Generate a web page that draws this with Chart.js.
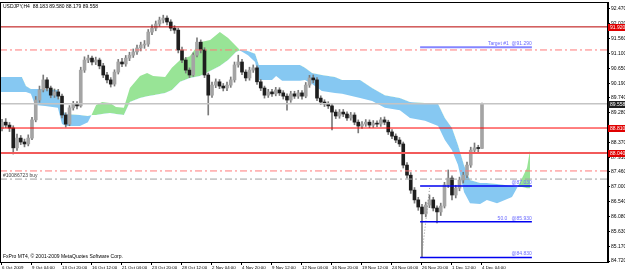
<!DOCTYPE html>
<html>
<head>
<meta charset="utf-8">
<script src="https://cdn.jsdelivr.net/npm/chart.js@4.4.1/dist/chart.umd.min.js"></script>
<style>
  html, body { margin: 0; padding: 0; background: #fff; }
  #wrap { width: 625px; height: 271px; }
</style>
</head>
<body>
<div id="wrap"><canvas id="chart"></canvas></div>
<script>
// USDJPY H4, one candle = two H4 bars
const ohlcOpen = [88.80, 88.99, 88.90, 88.81, 88.20, 88.50, 88.38, 88.32, 88.50, 89.06,
  89.67, 89.98, 90.29, 90.04, 89.82, 89.92, 89.79, 89.21, 88.93, 89.43,
  89.55, 89.49, 90.59, 90.90, 90.96, 90.84, 90.90, 90.72, 90.44, 90.29,
  90.16, 90.53, 90.84, 90.78, 90.96, 91.05, 91.15, 91.27, 91.36, 91.39,
  91.76, 91.88, 92.01, 92.13, 92.19, 92.07, 91.88, 91.82, 91.21, 90.90,
  90.59, 90.44, 91.05, 91.45, 91.21, 90.44, 89.82, 90.13, 90.23, 90.10,
  90.04, 90.13, 90.29, 90.75, 90.84, 90.53, 90.35, 90.59, 90.66, 90.23,
  90.04, 89.82, 89.92, 89.86, 89.98, 89.89, 89.79, 89.67, 89.86, 89.79,
  89.89, 89.79, 90.13, 90.35, 90.29, 89.73, 89.61, 89.55, 89.49, 89.30,
  89.18, 89.30, 89.24, 89.12, 89.21, 88.99, 88.87, 88.93, 88.99, 88.90,
  88.96, 88.93, 89.06, 88.99, 88.69, 88.56, 88.44, 88.32, 87.67, 87.36,
  86.90, 86.60, 86.38, 86.17, 86.44, 86.60, 86.35, 86.23, 86.41, 87.06,
  87.27, 86.75, 86.96, 87.21, 87.36, 87.67, 88.13, 88.20, 88.183];
const ohlcHigh = [89.08, 89.10, 88.98, 88.88, 88.62, 88.58, 88.47, 88.60, 89.14, 89.78,
  90.10, 90.44, 90.36, 90.10, 90.01, 90.00, 89.85, 89.28, 89.50, 89.63,
  89.62, 90.68, 91.00, 91.05, 91.02, 90.99, 90.96, 90.80, 90.52, 90.36,
  90.60, 90.92, 90.95, 91.04, 91.14, 91.24, 91.36, 91.45, 91.50, 91.84,
  91.98, 92.10, 92.22, 92.28, 92.26, 92.14, 91.96, 91.88, 91.30, 90.98,
  90.66, 91.12, 91.58, 91.52, 91.28, 90.50, 90.22, 90.32, 90.30, 90.18,
  90.22, 90.38, 90.84, 91.05, 90.92, 90.60, 90.68, 90.75, 90.72, 90.30,
  90.10, 90.00, 90.00, 90.06, 90.05, 89.96, 89.86, 89.94, 89.94, 89.97,
  89.96, 90.21, 90.43, 90.44, 90.36, 89.80, 89.68, 89.62, 89.56, 89.37,
  89.38, 89.38, 89.31, 89.29, 89.28, 89.06, 89.01, 89.07, 89.06, 89.04,
  89.03, 89.13, 89.15, 89.05, 88.76, 88.63, 88.52, 88.38, 87.75, 87.44,
  86.98, 86.68, 86.46, 86.53, 86.75, 86.68, 86.42, 86.50, 87.14, 87.52,
  87.34, 87.05, 87.30, 87.45, 87.76, 88.22, 88.35, 88.28, 89.580];
const ohlcLow = [88.72, 88.82, 88.70, 88.01, 88.12, 88.30, 88.23, 88.26, 88.45, 89.00,
  89.60, 89.92, 89.95, 89.74, 89.75, 89.70, 89.12, 88.84, 88.88, 89.36,
  89.40, 89.45, 90.52, 90.82, 90.75, 90.76, 90.63, 90.36, 90.20, 90.07,
  90.10, 90.47, 90.70, 90.71, 90.88, 90.98, 91.07, 91.18, 91.26, 91.32,
  91.68, 91.80, 91.94, 92.04, 91.98, 91.80, 91.72, 91.12, 90.82, 90.50,
  90.36, 90.40, 91.00, 91.12, 90.36, 89.21, 89.75, 90.05, 90.02, 89.95,
  89.96, 90.06, 90.22, 90.68, 90.45, 90.26, 90.28, 90.52, 90.15, 89.96,
  89.73, 89.75, 89.78, 89.80, 89.81, 89.70, 89.36, 89.60, 89.72, 89.72,
  89.70, 89.74, 90.06, 90.20, 89.65, 89.53, 89.47, 89.41, 88.75, 89.10,
  89.11, 89.16, 89.04, 89.05, 88.91, 88.66, 88.80, 88.86, 88.82, 88.83,
  88.85, 88.86, 88.91, 88.61, 88.48, 88.36, 88.24, 87.58, 87.27, 86.80,
  86.50, 86.28, 84.83, 86.08, 86.36, 86.26, 85.89, 86.12, 86.35, 86.98,
  86.60, 86.66, 86.88, 87.12, 87.28, 87.60, 88.04, 88.08, 88.179];
const ohlcClose = [88.99, 88.90, 88.81, 88.20, 88.50, 88.38, 88.32, 88.50, 89.06, 89.67,
  89.98, 90.29, 90.04, 89.82, 89.92, 89.79, 89.21, 88.93, 89.43, 89.55,
  89.49, 90.59, 90.90, 90.96, 90.84, 90.90, 90.72, 90.44, 90.29, 90.16,
  90.53, 90.84, 90.78, 90.96, 91.05, 91.15, 91.27, 91.36, 91.39, 91.76,
  91.88, 92.01, 92.13, 92.19, 92.07, 91.88, 91.82, 91.21, 90.90, 90.59,
  90.44, 91.05, 91.45, 91.21, 90.44, 89.82, 90.13, 90.23, 90.10, 90.04,
  90.13, 90.29, 90.75, 90.84, 90.53, 90.35, 90.59, 90.66, 90.23, 90.04,
  89.82, 89.92, 89.86, 89.98, 89.89, 89.79, 89.67, 89.86, 89.79, 89.89,
  89.79, 90.13, 90.35, 90.29, 89.73, 89.61, 89.55, 89.49, 89.30, 89.18,
  89.30, 89.24, 89.12, 89.21, 88.99, 88.87, 88.93, 88.99, 88.90, 88.96,
  88.93, 89.06, 88.99, 88.69, 88.56, 88.44, 88.32, 87.67, 87.36, 86.90,
  86.60, 86.38, 86.17, 86.44, 86.60, 86.35, 86.23, 86.41, 87.06, 87.27,
  86.75, 86.96, 87.21, 87.36, 87.67, 88.13, 88.20, 88.18, 89.558];

// ichimoku cloud (senkou span A / B), sampled at candle positions
const cloudBar = [-0.5, 2.1, 5.3, 6.4, 7.7, 8.8, 11.5, 14.9, 16.0, 17.1,
  20.8, 22.9, 24.0, 25.1, 26.7, 28.8, 30.4, 32.5, 34.1, 36.8,
  38.7, 40.3, 43.5, 45.3, 47.5, 50.1, 52.8, 55.5, 58.1, 60.3,
  62.4, 63.7, 65.6, 67.5, 68.5, 72.0, 73.1, 74.7, 79.5, 80.8,
  82.7, 85.3, 88.8, 90.7, 95.5, 98.7, 102.1, 106.1, 108.8, 112.8,
  116.3, 118.1, 120.0, 121.6, 123.2, 124.8, 127.5, 129.3, 132.0, 134.1,
  136.0, 137.3, 138.7, 140.0, 140.8];
const spanA = [89.92, 89.92, 89.92, 89.92, 89.86, 89.52, 89.49, 89.43, 88.93, 88.87,
  88.87, 88.99, 89.24, 89.52, 89.61, 89.58, 89.46, 89.43, 90.04, 90.41,
  90.50, 90.41, 90.38, 90.66, 90.90, 91.02, 91.45, 91.52, 91.76, 91.58,
  91.33, 91.18, 91.05, 90.84, 90.29, 90.29, 90.41, 90.26, 90.26, 90.29,
  90.16, 89.95, 89.89, 89.86, 89.73, 89.64, 89.43, 89.36, 89.12, 89.03,
  88.87, 88.44, 88.13, 87.67, 86.84, 86.50, 86.47, 86.60, 86.50, 86.60,
  86.69, 86.96, 87.27, 87.58, 88.13];
const spanB = [90.38, 90.38, 90.38, 90.10, 90.01, 90.01, 90.01, 89.98, 89.36, 89.24,
  89.21, 89.18, 89.21, 89.21, 89.24, 89.27, 89.24, 89.21, 89.61, 89.73,
  89.79, 89.82, 89.89, 89.98, 90.23, 90.35, 90.41, 90.56, 90.72, 90.90,
  91.15, 91.21, 91.18, 91.09, 90.75, 90.75, 90.75, 90.75, 90.75, 90.66,
  90.50, 90.44, 90.38, 90.29, 90.29, 90.04, 89.82, 89.73, 89.61, 89.58,
  89.55, 89.12, 88.81, 88.29, 87.67, 87.21, 87.12, 87.12, 87.09, 87.06,
  87.03, 87.00, 87.00, 86.96, 86.96];

const priceTicks = [84.72, 85.17, 85.63, 86.08, 86.54, 87.00, 87.46, 87.91, 88.37,
  88.83, 89.28, 89.74, 90.19, 90.65, 91.10, 91.56, 92.02, 92.47];
const timeTickBars = [0, 8, 16, 24, 32, 40, 48, 56, 64, 72, 80, 88, 96, 104, 112, 120, 128];
const timeTickLabels = ["6 Oct 2009", "9 Oct 04:00", "13 Oct 20:00", "16 Oct 12:00", "21 Oct 04:00",
  "23 Oct 20:00", "28 Oct 12:00", "2 Nov 04:00", "4 Nov 20:00", "9 Nov 12:00", "12 Nov 04:00",
  "16 Nov 20:00", "19 Nov 12:00", "24 Nov 04:00", "26 Nov 20:00", "1 Dec 12:00", "4 Dec 04:00"];

// horizontal levels
const resistHigh = 91.92;
const resistMid = 88.81;
const resistLow = 88.04;
const bidPrice = 89.558;
const takeLevel = 91.21;
const orderPrice = 87.49;
const stopLevel = 87.24;
const targetPrice = 91.29;
const fibPrices = [87.03, 85.93, 84.83];
const fibTexts = ["@87.030", "50.0   @85.930", "@84.830"];
const fibFrom = 111.5, fibTo = 141.3;
const trendFrom = 111.9, trendTo = 114.1;

const X_MIN = -0.533, X_MAX = 161.6;
const Y_MIN = 84.690, Y_MAX = 92.685;
const FONT = "Liberation Sans";

const bars = ohlcClose.map((c, i) => i);

function hLine(value, color, width, dash, from, to) {
  return {
    type: "line",
    data: [{ x: from, y: value }, { x: to, y: value }],
    borderColor: color,
    borderWidth: width,
    borderDash: dash,
    pointRadius: 0,
    fill: false,
    order: 1,
  };
}

const overlay = {
  id: "overlay",
  afterDraw(chart) {
    const { ctx, chartArea: a, scales: { x, y } } = chart;
    ctx.save();
    ctx.strokeStyle = "#000";
    ctx.lineWidth = 1;
    ctx.strokeRect(a.left + 0.5, a.top + 0.5, a.right - a.left - 1, a.bottom - a.top);

    ctx.font = "5px " + FONT;
    ctx.textBaseline = "middle";
    ctx.textAlign = "left";
    ctx.fillStyle = "#000";
    ctx.fillText("USDJPY,H4  88.183 89.580 88.179 89.558", 3, 7);
    ctx.fillText("FxPro MT4, \u00a9 2001-2009 MetaQuotes Software Corp.", 3, 257);
    ctx.fillStyle = "#444";
    ctx.fillText("#10086723 buy", 3, y.getPixelForValue(orderPrice) + 5);

    // fibonacci / target labels
    ctx.textAlign = "right";
    ctx.textBaseline = "bottom";
    ctx.fillStyle = "#6a6aff";
    const xr = x.getPixelForValue(fibTo);
    ctx.fillText("Target #1  @91.290", xr, y.getPixelForValue(targetPrice) - 1);
    fibPrices.forEach((p, i) => ctx.fillText(fibTexts[i], xr, y.getPixelForValue(p) - 1));

    // price boxes on the axis
    const boxes = [[resistHigh, "#e00000"], [bidPrice, "#202020"], [resistMid, "#e00000"], [resistLow, "#e00000"]];
    ctx.textAlign = "left";
    ctx.textBaseline = "middle";
    boxes.forEach(([p, c]) => {
      const py = Math.round(y.getPixelForValue(p));
      ctx.fillStyle = c;
      ctx.fillRect(a.right, py - 3, 625 - a.right, 7);
      ctx.fillStyle = "#fff";
      ctx.fillText(p.toFixed(3), a.right + 2, py + 0.5);
    });
    ctx.restore();
  },
};

new Chart(document.getElementById("chart"), {
  type: "bar",
  data: {
    datasets: [
      hLine(resistHigh, "#b80000", 1, [], X_MIN, X_MAX),
      hLine(takeLevel, "#ff7a7a", 1, [7, 3, 2, 3], X_MIN, X_MAX),
      hLine(bidPrice, "#c4c4c4", 1.5, [], X_MIN, X_MAX),
      hLine(resistMid, "#ff0000", 1, [], X_MIN, X_MAX),
      hLine(resistLow, "#f25a5a", 2, [], X_MIN, X_MAX),
      hLine(orderPrice, "#ff7a7a", 1, [7, 3, 2, 3], X_MIN, X_MAX),
      hLine(stopLevel, "#a0a0a0", 1, [7, 3, 2, 3], X_MIN, X_MAX),
      hLine(targetPrice, "#8585ff", 2, [], fibFrom, fibTo),
      hLine(fibPrices[0], "#0000f0", 1.5, [], fibFrom, fibTo),
      hLine(fibPrices[1], "#0000f0", 1.5, [], fibFrom, fibTo),
      hLine(fibPrices[2], "#0000f0", 1.5, [], fibFrom, fibTo),
      {
        type: "line",
        data: [{ x: trendFrom, y: fibPrices[2] }, { x: trendTo, y: fibPrices[0] }],
        borderColor: "#909090",
        borderWidth: 1,
        borderDash: [1, 2],
        pointRadius: 0,
        fill: false,
        order: 1,
      },
      {
        label: "bodies",
        data: bars.map((i) => ({ x: i, y: [ohlcOpen[i], ohlcClose[i]] })),
        backgroundColor: bars.map((i) => (ohlcClose[i] >= ohlcOpen[i] ? "#a4a4a4" : "#1e1e1e")),
        barThickness: 3,
        minBarLength: 1,
        grouped: false,
        order: 2,
      },
      {
        label: "wicks",
        data: bars.map((i) => ({ x: i, y: [ohlcLow[i], ohlcHigh[i]] })),
        backgroundColor: "#7a7a7a",
        barThickness: 1,
        grouped: false,
        order: 3,
      },
      {
        type: "line",
        label: "Senkou A",
        data: cloudBar.map((b, i) => ({ x: b, y: spanA[i] })),
        borderColor: "rgba(0,0,0,0)",
        pointRadius: 0,
        tension: 0,
        fill: { target: "+1", above: "#98e496", below: "#86c8f2" },
        order: 10,
      },
      {
        type: "line",
        label: "Senkou B",
        data: cloudBar.map((b, i) => ({ x: b, y: spanB[i] })),
        borderColor: "rgba(0,0,0,0)",
        pointRadius: 0,
        tension: 0,
        fill: false,
        order: 11,
      },
    ],
  },
  options: {
    responsive: true,
    maintainAspectRatio: false,
    animation: false,
    devicePixelRatio: 1,
    layout: { padding: { top: 2, left: 0, right: 0, bottom: 0 } },
    plugins: {
      legend: { display: false },
      tooltip: { enabled: false },
    },
    scales: {
      x: {
        type: "linear",
        min: X_MIN,
        max: X_MAX,
        offset: false,
        grid: { display: true, drawOnChartArea: false, drawTicks: true, tickLength: 3, color: "#000", offset: false },
        border: { display: true, color: "#000" },
        ticks: {
          font: { family: FONT, size: 4.4 },
          color: "#000",
          align: "start",
          padding: 0,
          maxRotation: 0,
          autoSkip: false,
          callback: (v, i) => timeTickLabels[i],
        },
        afterBuildTicks: (s) => {
          s.ticks = timeTickBars.map((v) => ({ value: v }));
        },
        afterFit: (s) => {
          s.height = 9;
          s.paddingLeft = 0;
          s.paddingRight = 0;
        },
      },
      y: {
        type: "linear",
        position: "right",
        min: Y_MIN,
        max: Y_MAX,
        grid: { display: true, drawOnChartArea: false, tickLength: 2, color: "#000" },
        border: { display: true, color: "#000" },
        ticks: {
          font: { family: FONT, size: 5 },
          color: "#000",
          padding: 1,
          callback: (v) => v.toFixed(3),
        },
        afterBuildTicks: (s) => {
          s.ticks = priceTicks.map((v) => ({ value: v }));
        },
        afterFit: (s) => {
          s.width = 17;
          s.paddingTop = 0;
          s.paddingBottom = 0;
        },
      },
    },
  },
  plugins: [overlay],
});
</script>
</body>
</html>
